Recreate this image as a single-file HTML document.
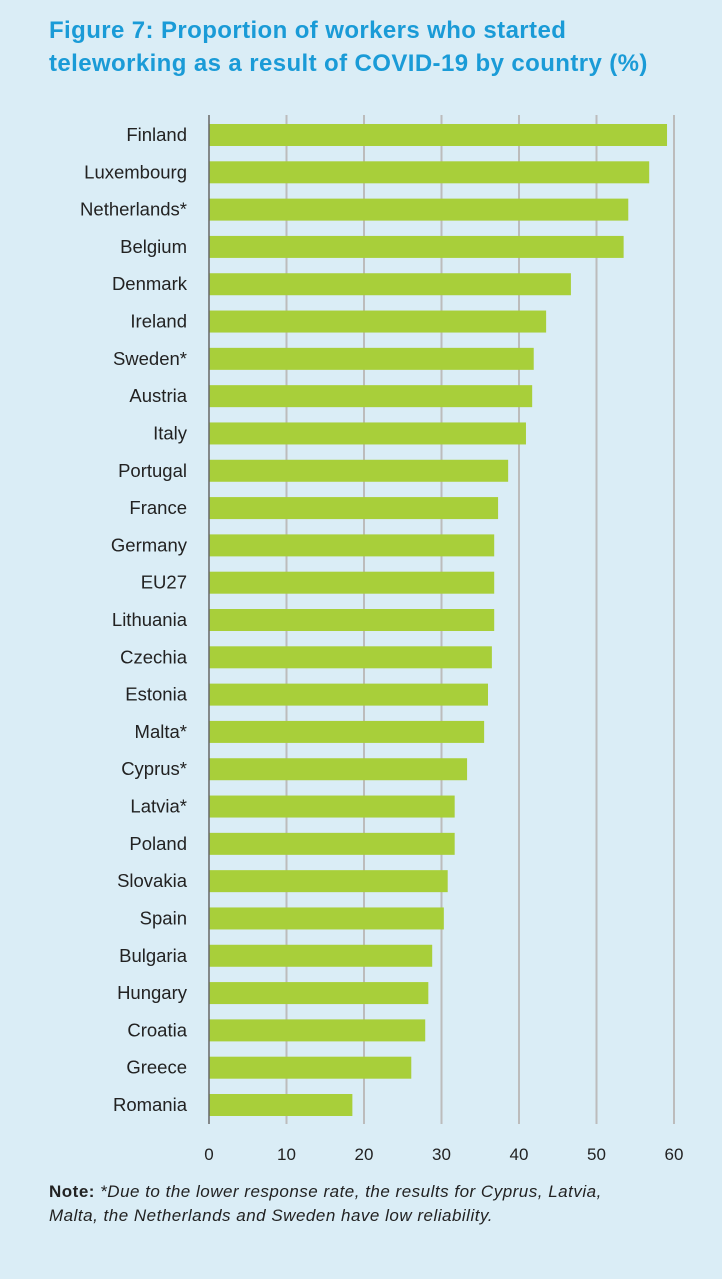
<!DOCTYPE html>
<html><head><meta charset="utf-8"><style>
body{margin:0;background:#daedf6;width:722px;height:1279px;overflow:hidden;font-family:"Liberation Sans",sans-serif;}
#title{position:absolute;left:49px;top:14px;font-size:24px;line-height:33px;color:#1a9bd7;font-weight:bold;letter-spacing:0.4px;}
#note{position:absolute;left:49px;top:1180px;font-size:17px;line-height:24px;color:#222;font-style:italic;letter-spacing:0.5px;}
svg{position:absolute;left:0;top:0;}
</style></head><body>
<div id="title">Figure 7: Proportion of workers who started<br>teleworking as a result of COVID-19 by country (%)</div>
<svg id="chart" width="722" height="1279"></svg>
<div id="note"><b style="font-style:normal">Note:</b> *Due to the lower response rate, the results for Cyprus, Latvia,<br>Malta, the Netherlands and Sweden have low reliability.</div>
<script>
const categories=["Finland","Luxembourg","Netherlands*","Belgium","Denmark","Ireland","Sweden*","Austria","Italy","Portugal","France","Germany","EU27","Lithuania","Czechia","Estonia","Malta*","Cyprus*","Latvia*","Poland","Slovakia","Spain","Bulgaria","Hungary","Croatia","Greece","Romania"];
const values=[59.1,56.8,54.1,53.5,46.7,43.5,41.9,41.7,40.9,38.6,37.3,36.8,36.8,36.8,36.5,36.0,35.5,33.3,31.7,31.7,30.8,30.3,28.8,28.3,27.9,26.1,18.5];
const ticks=[0,10,20,30,40,50,60];
const NS="http://www.w3.org/2000/svg";
const svg=document.getElementById('chart');
const x=v=>209+v*(674-209)/60;
const y=i=>135+i*(1105-135)/(categories.length-1);
function mk(t,a){const e=document.createElementNS(NS,t);for(const k in a)e.setAttribute(k,a[k]);svg.appendChild(e);return e;}
ticks.forEach(t=>{
 if(t>0){const g=mk('line',{x1:x(t),x2:x(t),y1:115,y2:1124,stroke:'#bcbcbc','stroke-width':2});
 
 }
 const l=mk('text',{x:x(t),y:1160,'text-anchor':'middle','font-size':17,fill:'#222'});
 l.textContent=t;
 
 
});
categories.forEach((c,i)=>{
 const b=mk('rect',{x:x(0),y:y(i)-11,width:x(values[i])-x(0),height:22,fill:'#a8cf3a'});
 
 
 const l=mk('text',{x:187,y:y(i)+6,'text-anchor':'end','font-size':18.5,fill:'#222'});
 l.textContent=c;
 
 
});
const ax=mk('line',{x1:x(0),x2:x(0),y1:115,y2:1124,stroke:'#666','stroke-width':1.5});


</script>
</body></html>
